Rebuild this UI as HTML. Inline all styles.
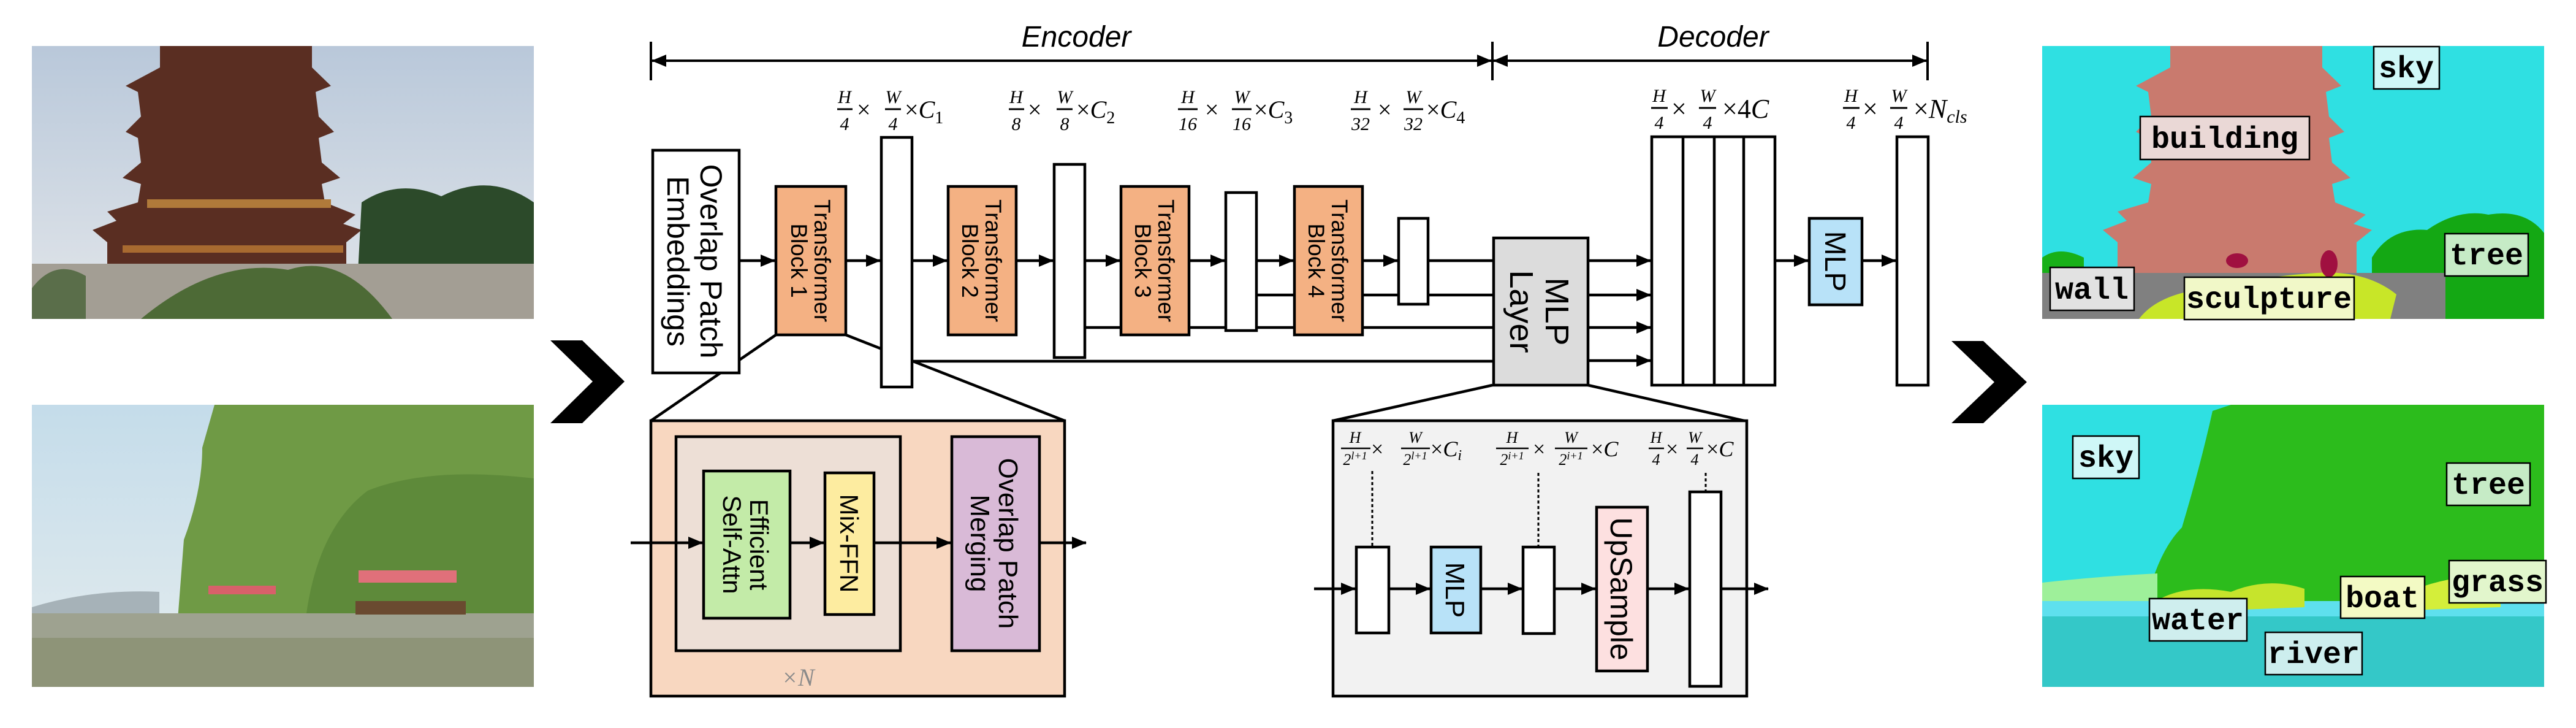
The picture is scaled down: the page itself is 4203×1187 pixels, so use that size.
<!DOCTYPE html>
<html><head><meta charset="utf-8"><style>
html,body{margin:0;padding:0;background:#fff;width:4203px;height:1187px;overflow:hidden}
svg{display:block}
.s{font-family:"Liberation Sans",sans-serif;fill:#000}
.m{font-family:"Liberation Serif",serif;font-style:italic;fill:#000}
.lab{font-family:"Liberation Mono",monospace;font-weight:bold;font-size:50px;fill:#000}
</style></head><body>
<svg width="4203" height="1187" viewBox="0 0 4203 1187" xmlns="http://www.w3.org/2000/svg">
<defs>
<marker id="ah" markerWidth="24" markerHeight="20" refX="23" refY="10" orient="auto" markerUnits="userSpaceOnUse"><path d="M0,0 L24,10 L0,20 z" fill="#000"/></marker>
<linearGradient id="sky1" x1="0" y1="0" x2="0" y2="1"><stop offset="0" stop-color="#b9c8da"/><stop offset="1" stop-color="#e2e6ea"/></linearGradient>
<linearGradient id="sky2" x1="0" y1="0" x2="0" y2="1"><stop offset="0" stop-color="#c4dcea"/><stop offset="1" stop-color="#e4ecee"/></linearGradient>
</defs>

<!-- ===== left photos ===== -->
<rect x="52" y="75" width="819" height="445" fill="url(#sky1)"/>
<polygon fill="#5a2e22" points="261,75 509,75 509,110 540,140 515,150 520,190 545,215 520,225 525,265 555,290 525,300 530,330 580,350 560,365 590,375 565,395 565,455 175,455 175,395 151,375 190,360 175,345 225,330 230,300 200,290 230,265 225,225 205,215 230,190 225,150 205,140 261,110"/>
<rect x="240" y="325" width="300" height="14" fill="#b07a3a"/>
<rect x="200" y="400" width="360" height="12" fill="#a86a30"/>
<path d="M580,520 L590,330 Q650,290 720,320 Q800,280 871,330 L871,520 Z" fill="#2c4a2a"/>
<rect x="52" y="430" width="819" height="90" fill="#a39e94"/>
<path d="M230,520 Q350,420 470,440 Q560,410 640,520 Z" fill="#4d6a36"/>
<path d="M52,470 Q90,420 140,450 L140,520 L52,520Z" fill="#5a6e4a"/>

<rect x="52" y="660" width="819" height="460" fill="url(#sky2)"/>
<path d="M290,1010 L300,880 Q330,800 330,730 L350,660 L871,660 L871,1010 Z" fill="#6f9a45"/>
<path d="M500,1000 Q520,860 600,800 Q700,760 871,780 L871,1000 Z" fill="#5e8a3a"/>
<path d="M52,990 Q150,960 260,965 L260,1010 L52,1010Z" fill="#a6b2b8"/>
<rect x="52" y="1000" width="819" height="120" fill="#9ea290"/>
<rect x="52" y="1040" width="819" height="80" fill="#8e9478"/>
<rect x="340" y="955" width="110" height="14" fill="#d8606a"/>
<rect x="585" y="930" width="160" height="20" fill="#e0707a"/>
<rect x="580" y="980" width="180" height="22" fill="#6a4a30"/>

<!-- left chevron -->
<polygon points="898,555 950,555 1019,622 950,690 898,690 967,622" fill="#000"/>

<!-- ===== bracket ===== -->
<g stroke="#000" stroke-width="4" fill="none">
<line x1="1062" y1="68" x2="1062" y2="131"/>
<line x1="2435" y1="68" x2="2435" y2="131"/>
<line x1="3145" y1="68" x2="3145" y2="131"/>
<line x1="1064" y1="99" x2="2433" y2="99" marker-end="url(#ah)"/>
<line x1="2433" y1="99" x2="1064" y2="99" marker-end="url(#ah)"/>
<line x1="2437" y1="99" x2="3143" y2="99" marker-end="url(#ah)"/>
<line x1="3143" y1="99" x2="2437" y2="99" marker-end="url(#ah)"/>
</g>
<text x="1756" y="76" class="s" font-size="48" font-style="italic" text-anchor="middle">Encoder</text>
<text x="2795" y="76" class="s" font-size="48" font-style="italic" text-anchor="middle">Decoder</text>

<!-- ===== connector lines (behind boxes) ===== -->
<g stroke="#000" stroke-width="4.5" fill="none">
<line x1="1266" y1="546" x2="1062" y2="686"/>
<line x1="1380" y1="546" x2="1737" y2="686"/>
<line x1="2435" y1="628" x2="2175" y2="686"/>
<line x1="2591" y1="628" x2="2850" y2="687"/>
<line x1="2050" y1="481" x2="2435" y2="481"/>
<line x1="1770" y1="534" x2="2435" y2="534"/>
<line x1="1488" y1="589" x2="2435" y2="589"/>
<line x1="2330" y1="425" x2="2435" y2="425"/>
<line x1="1206" y1="425" x2="1264" y2="425" marker-end="url(#ah)"/>
<line x1="1380" y1="425" x2="1436" y2="425" marker-end="url(#ah)"/>
<line x1="1488" y1="425" x2="1545" y2="425" marker-end="url(#ah)"/>
<line x1="1658" y1="425" x2="1718" y2="425" marker-end="url(#ah)"/>
<line x1="1770" y1="425" x2="1827" y2="425" marker-end="url(#ah)"/>
<line x1="1940" y1="425" x2="1998" y2="425" marker-end="url(#ah)"/>
<line x1="2050" y1="425" x2="2110" y2="425" marker-end="url(#ah)"/>
<line x1="2223" y1="425" x2="2280" y2="425" marker-end="url(#ah)"/>
<line x1="2591" y1="425" x2="2693" y2="425" marker-end="url(#ah)"/>
<line x1="2591" y1="481" x2="2693" y2="481" marker-end="url(#ah)"/>
<line x1="2591" y1="534" x2="2693" y2="534" marker-end="url(#ah)"/>
<line x1="2591" y1="588" x2="2693" y2="588" marker-end="url(#ah)"/>
<line x1="2896" y1="425" x2="2950" y2="425" marker-end="url(#ah)"/>
<line x1="3038" y1="425" x2="3093" y2="425" marker-end="url(#ah)"/>
</g>

<!-- ===== encoder boxes ===== -->
<g stroke="#000" stroke-width="4.5">
<rect x="1065" y="245" width="141" height="363" fill="#fff"/>
<rect x="1266" y="304" width="114" height="242" fill="#f4b183"/>
<rect x="1438" y="224" width="50" height="407" fill="#fff"/>
<rect x="1547" y="304" width="111" height="242" fill="#f4b183"/>
<rect x="1720" y="268" width="50" height="315" fill="#fff"/>
<rect x="1829" y="304" width="111" height="242" fill="#f4b183"/>
<rect x="2000" y="314" width="50" height="225" fill="#fff"/>
<rect x="2112" y="304" width="111" height="242" fill="#f4b183"/>
<rect x="2282" y="356" width="48" height="140" fill="#fff"/>
<rect x="2437" y="388" width="154" height="240" fill="#dcdcdc"/>
<rect x="2695" y="223" width="201" height="405" fill="#fff"/>
<line x1="2746" y1="223" x2="2746" y2="628"/>
<line x1="2797" y1="223" x2="2797" y2="628"/>
<line x1="2845" y1="223" x2="2845" y2="628"/>
<rect x="2952" y="356" width="86" height="141" fill="#b8e2f8"/>
<rect x="3095" y="223" width="51" height="405" fill="#fff"/>
</g>
<g class="s" text-anchor="middle">
<g transform="rotate(90,1135,426)"><text x="1135" y="426" font-size="50" dy="-8">Overlap Patch</text><text x="1135" y="426" font-size="50" dy="46">Embeddings</text></g>
<g transform="rotate(90,1323,425)"><text x="1323" y="425" font-size="37" dy="-6">Transformer</text><text x="1323" y="425" font-size="37" dy="32">Block 1</text></g>
<g transform="rotate(90,1602,425)"><text x="1602" y="425" font-size="37" dy="-6">Transformer</text><text x="1602" y="425" font-size="37" dy="32">Block 2</text></g>
<g transform="rotate(90,1884,425)"><text x="1884" y="425" font-size="37" dy="-6">Transformer</text><text x="1884" y="425" font-size="37" dy="32">Block 3</text></g>
<g transform="rotate(90,2167,425)"><text x="2167" y="425" font-size="37" dy="-6">Transformer</text><text x="2167" y="425" font-size="37" dy="32">Block 4</text></g>
<g transform="rotate(90,2514,508)"><text x="2514" y="508" font-size="54" dy="-8">MLP</text><text x="2514" y="508" font-size="54" dy="50">Layer</text></g>
<g transform="rotate(90,2995,426)"><text x="2995" y="426" font-size="48" dy="17">MLP</text></g>
</g>

<!-- ===== fraction labels (encoder) ===== -->
<g class="m" text-anchor="middle" font-size="30">
<text x="1378" y="168">H</text><text x="1378" y="212">4</text><line x1="1366" y1="178" x2="1391" y2="178" stroke="#000" stroke-width="3"/>
<text x="1457" y="168">W</text><text x="1457" y="212">4</text><line x1="1444" y1="178" x2="1470" y2="178" stroke="#000" stroke-width="3"/>
<text x="1658" y="168">H</text><text x="1658" y="212">8</text><line x1="1646" y1="178" x2="1671" y2="178" stroke="#000" stroke-width="3"/>
<text x="1737" y="168">W</text><text x="1737" y="212">8</text><line x1="1724" y1="178" x2="1750" y2="178" stroke="#000" stroke-width="3"/>
<text x="1938" y="168">H</text><text x="1938" y="212">16</text><line x1="1922" y1="178" x2="1954" y2="178" stroke="#000" stroke-width="3"/>
<text x="2026" y="168">W</text><text x="2026" y="212">16</text><line x1="2010" y1="178" x2="2042" y2="178" stroke="#000" stroke-width="3"/>
<text x="2220" y="168">H</text><text x="2220" y="212">32</text><line x1="2204" y1="178" x2="2236" y2="178" stroke="#000" stroke-width="3"/>
<text x="2306" y="168">W</text><text x="2306" y="212">32</text><line x1="2290" y1="178" x2="2322" y2="178" stroke="#000" stroke-width="3"/>
</g>
<g class="m" font-size="40">
<text x="1398" y="192" font-style="normal">×</text><text x="1476" y="192"><tspan font-style="normal">×</tspan>C<tspan font-size="28" dy="9" font-style="normal">1</tspan></text>
<text x="1677" y="192" font-style="normal">×</text><text x="1756" y="192"><tspan font-style="normal">×</tspan>C<tspan font-size="28" dy="9" font-style="normal">2</tspan></text>
<text x="1966" y="192" font-style="normal">×</text><text x="2046" y="192"><tspan font-style="normal">×</tspan>C<tspan font-size="28" dy="9" font-style="normal">3</tspan></text>
<text x="2248" y="192" font-style="normal">×</text><text x="2327" y="192"><tspan font-style="normal">×</tspan>C<tspan font-size="28" dy="9" font-style="normal">4</tspan></text>
</g>
<!-- decoder top labels -->
<g class="m" text-anchor="middle" font-size="30">
<text x="2707" y="166">H</text><text x="2707" y="210">4</text><line x1="2694" y1="176" x2="2721" y2="176" stroke="#000" stroke-width="3"/>
<text x="2786" y="166">W</text><text x="2786" y="210">4</text><line x1="2772" y1="176" x2="2800" y2="176" stroke="#000" stroke-width="3"/>
<text x="3020" y="166">H</text><text x="3020" y="210">4</text><line x1="3007" y1="176" x2="3034" y2="176" stroke="#000" stroke-width="3"/>
<text x="3098" y="166">W</text><text x="3098" y="210">4</text><line x1="3084" y1="176" x2="3112" y2="176" stroke="#000" stroke-width="3"/>
</g>
<g class="m" font-size="44">
<text x="2727" y="192" font-style="normal">×</text><text x="2810" y="192"><tspan font-style="normal">×4</tspan>C</text>
<text x="3039" y="192" font-style="normal">×</text><text x="3122" y="192"><tspan font-style="normal">×</tspan>N<tspan font-size="30" dy="8">cls</tspan></text>
</g>

<!-- right chevron -->
<polygon points="3184,556 3236,556 3307,623 3236,690 3184,690 3254,623" fill="#000"/>

<!-- ===== encoder inset ===== -->
<g stroke="#000" stroke-width="4.5">
<rect x="1062" y="686" width="675" height="449" fill="#f8d7c0"/>
<rect x="1103" y="712" width="366" height="349" fill="#eddfd6"/>
<rect x="1148" y="768" width="141" height="240" fill="#c3eba8"/>
<rect x="1346" y="771" width="80" height="231" fill="#fdeca0"/>
<rect x="1553" y="712" width="143" height="349" fill="#d9bad7"/>
</g>
<g stroke="#000" stroke-width="4.5" fill="none">
<line x1="1029" y1="885" x2="1146" y2="885" marker-end="url(#ah)"/>
<line x1="1289" y1="885" x2="1344" y2="885" marker-end="url(#ah)"/>
<line x1="1426" y1="885" x2="1551" y2="885" marker-end="url(#ah)"/>
<line x1="1696" y1="885" x2="1772" y2="885" marker-end="url(#ah)"/>
</g>
<g class="s" text-anchor="middle">
<g transform="rotate(90,1218,888)"><text x="1218" y="888" font-size="42" dy="-6">Efficient</text><text x="1218" y="888" font-size="42" dy="38">Self-Attn</text></g>
<g transform="rotate(90,1386,886)"><text x="1386" y="886" font-size="42" dy="15">Mix-FFN</text></g>
<g transform="rotate(90,1624,886)"><text x="1624" y="886" font-size="44" dy="-6">Overlap Patch</text><text x="1624" y="886" font-size="44" dy="40">Merging</text></g>
</g>
<text x="1275" y="1118" class="m" font-size="40" style="fill:#8a8a8a">×N</text>

<!-- ===== decoder inset ===== -->
<g stroke="#000" stroke-width="4.5">
<rect x="2175" y="686" width="675" height="449" fill="#f2f2f2"/>
<rect x="2213" y="892" width="53" height="140" fill="#fff"/>
<rect x="2335" y="892" width="81" height="140" fill="#b8e2f8"/>
<rect x="2485" y="892" width="51" height="141" fill="#fff"/>
<rect x="2605" y="827" width="83" height="267" fill="#fde0e0"/>
<rect x="2757" y="802" width="51" height="317" fill="#fff"/>
</g>
<g stroke="#000" stroke-width="3" stroke-dasharray="5,4">
<line x1="2239" y1="768" x2="2239" y2="892"/>
<line x1="2510" y1="771" x2="2510" y2="892"/>
<line x1="2783" y1="771" x2="2783" y2="802"/>
</g>
<g stroke="#000" stroke-width="4.5" fill="none">
<line x1="2144" y1="960" x2="2211" y2="960" marker-end="url(#ah)"/>
<line x1="2266" y1="960" x2="2333" y2="960" marker-end="url(#ah)"/>
<line x1="2416" y1="960" x2="2483" y2="960" marker-end="url(#ah)"/>
<line x1="2536" y1="960" x2="2603" y2="960" marker-end="url(#ah)"/>
<line x1="2688" y1="960" x2="2755" y2="960" marker-end="url(#ah)"/>
<line x1="2808" y1="960" x2="2885" y2="960" marker-end="url(#ah)"/>
</g>
<g class="s" text-anchor="middle">
<g transform="rotate(90,2375,962)"><text x="2375" y="962" font-size="44" dy="16">MLP</text></g>
<g transform="rotate(90,2646,960)"><text x="2646" y="960" font-size="50" dy="18">UpSample</text></g>
</g>
<g class="m" text-anchor="middle" font-size="26">
<text x="2211" y="722">H</text><text x="2211" y="758">2<tspan font-size="18" dy="-9">l+1</tspan></text><line x1="2188" y1="731" x2="2236" y2="731" stroke="#000" stroke-width="2.5"/>
<text x="2309" y="722">W</text><text x="2309" y="758">2<tspan font-size="18" dy="-9">l+1</tspan></text><line x1="2286" y1="731" x2="2333" y2="731" stroke="#000" stroke-width="2.5"/>
<text x="2467" y="722">H</text><text x="2467" y="758">2<tspan font-size="18" dy="-9">i+1</tspan></text><line x1="2441" y1="731" x2="2494" y2="731" stroke="#000" stroke-width="2.5"/>
<text x="2563" y="722">W</text><text x="2563" y="758">2<tspan font-size="18" dy="-9">i+1</tspan></text><line x1="2537" y1="731" x2="2590" y2="731" stroke="#000" stroke-width="2.5"/>
<text x="2702" y="722">H</text><text x="2702" y="758">4</text><line x1="2690" y1="731" x2="2715" y2="731" stroke="#000" stroke-width="2.5"/>
<text x="2765" y="722">W</text><text x="2765" y="758">4</text><line x1="2752" y1="731" x2="2779" y2="731" stroke="#000" stroke-width="2.5"/>
</g>
<g class="m" font-size="36">
<text x="2237" y="744" font-style="normal">×</text><text x="2334" y="744"><tspan font-style="normal">×</tspan>C<tspan font-size="24" dy="6">i</tspan></text>
<text x="2501" y="744" font-style="normal">×</text><text x="2596" y="744"><tspan font-style="normal">×</tspan>C</text>
<text x="2718" y="744" font-style="normal">×</text><text x="2784" y="744"><tspan font-style="normal">×</tspan>C</text>
</g>

<!-- ===== segmentation outputs ===== -->
<rect x="3332" y="75" width="819" height="445" fill="#2fe0e2"/>
<polygon fill="#c97a6e" points="3541,75 3789,75 3789,110 3820,140 3795,150 3800,190 3825,215 3800,225 3805,265 3835,290 3805,300 3810,330 3860,350 3840,365 3870,375 3845,395 3845,455 3455,455 3455,395 3431,375 3470,360 3455,345 3505,330 3510,300 3480,290 3510,265 3505,225 3485,215 3510,190 3505,150 3485,140 3541,110"/>
<path d="M3870,520 L3870,420 Q3900,370 3960,375 Q4010,340 4060,350 Q4120,340 4151,380 L4151,520 Z" fill="#14a814"/>
<path d="M3332,420 Q3360,400 3400,420 L3400,460 L3332,460Z" fill="#18b018"/>
<rect x="3332" y="445" width="819" height="75" fill="#808080"/>
<path d="M3490,520 Q3520,480 3600,470 Q3700,450 3780,445 Q3860,440 3910,480 L3900,520 Z" fill="#c8e628"/>
<path d="M3990,520 L3990,430 Q4060,400 4151,420 L4151,520 Z" fill="#14a814"/>
<ellipse cx="3650" cy="425" rx="18" ry="12" fill="#a01040"/>
<ellipse cx="3800" cy="430" rx="14" ry="22" fill="#a01040"/>
<g stroke="#000" stroke-width="2.5">
<rect x="3873" y="76" width="107" height="69" fill="#cff7f7"/>
<rect x="3492" y="190" width="276" height="70" fill="#ead8d6"/>
<rect x="3989" y="381" width="136" height="69" fill="#c6ebc6"/>
<rect x="3345" y="436" width="137" height="70" fill="#e2e2e2"/>
<rect x="3564" y="452" width="277" height="69" fill="#f1f8c8"/>
</g>
<g class="lab" text-anchor="middle">
<text x="3926" y="126">sky</text>
<text x="3630" y="241">building</text>
<text x="4057" y="431">tree</text>
<text x="3413" y="487">wall</text>
<text x="3702" y="502">sculpture</text>
</g>

<rect x="3332" y="660" width="819" height="460" fill="#2fe0e2"/>
<path d="M3500,990 Q3520,900 3560,860 Q3590,760 3610,670 L3640,660 L4151,660 L4151,980 Z" fill="#2cbc1c"/>
<path d="M3332,950 Q3420,940 3520,935 L3520,985 L3332,990Z" fill="#9ef09a"/>
<rect x="3332" y="980" width="819" height="30" fill="#5ee0ee"/>
<rect x="3332" y="1005" width="819" height="115" fill="#34c8c8"/>
<path d="M3510,985 Q3560,950 3640,965 Q3700,940 3760,960 L3760,990 L3510,1000Z" fill="#c6e42c"/>
<path d="M3930,965 Q4000,935 4080,940 L4080,990 L3930,995Z" fill="#d4ee3a"/>
<g stroke="#000" stroke-width="2.5">
<rect x="3382" y="711" width="108" height="69" fill="#cff7f7"/>
<rect x="3992" y="755" width="136" height="69" fill="#c6ebc6"/>
<rect x="3996" y="914" width="158" height="69" fill="#e2f6cc"/>
<rect x="3819" y="940" width="137" height="68" fill="#f3fac4"/>
<rect x="3507" y="976" width="159" height="69" fill="#cfeeee"/>
<rect x="3696" y="1031" width="158" height="69" fill="#cdeeee"/>
</g>
<g class="lab" text-anchor="middle">
<text x="3436" y="761">sky</text>
<text x="4060" y="805">tree</text>
<text x="4075" y="964">grass</text>
<text x="3887" y="990">boat</text>
<text x="3586" y="1026">water</text>
<text x="3775" y="1081">river</text>
</g>
</svg>
</body></html>
